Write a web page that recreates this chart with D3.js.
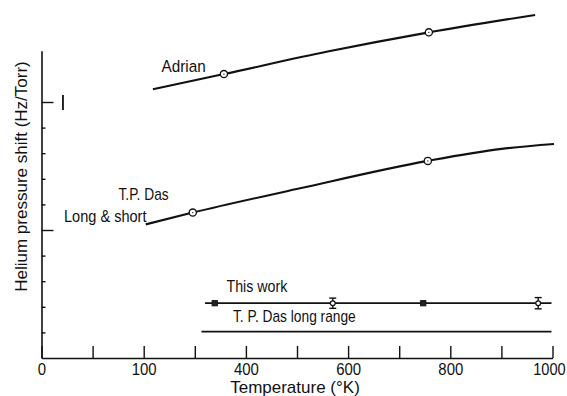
<!DOCTYPE html>
<html><head><meta charset="utf-8">
<script src="https://cdn.jsdelivr.net/npm/d3@7"></script>
<style>
body{margin:0;background:#fff}
svg{display:block}
text{font-family:"Liberation Sans",Arial,Helvetica,sans-serif;fill:#111}
</style>
</head><body>
<svg id="c" width="567" height="396"></svg>
<script>
// ---- data ----
const xTickValues = [0,100,200,300,400,500,600,700,800,900,1000];
const xTickLabelValues = [0,200,400,600,800,1000];
const xTickLabels = ["0","100","400","600","800","1000"];
const yMinorTicks = [1,2,3,4,6,7,8,9];
const yMajorTicks = [5,10];

// Adrian curve (temperature K, shift in arbitrary axis units)
const adrianT = [218, 357, 560, 758, 966];
const adrianV = [10.50, 11.09, 11.97, 12.72, 13.40];
const adrianPtsT = [357, 758];
const adrianPtsV = [11.09, 12.72];

// T.P. Das long & short range
const dasLST = [204, 296, 506, 756, 900, 1003];
const dasLSV = [5.22, 5.68, 6.63, 7.70, 8.17, 8.36];
const dasLSPtsT = [296, 756];
const dasLSPtsV = [5.68, 7.70];

// This work
const workLineT = [320, 998];
const workLineV = [2.14, 2.14];
const workPtsT = [339, 570, 747, 972];
const workPtsV = [2.14, 2.14, 2.14, 2.14];
const workErr = [0, 0.20, 0, 0.22];
const workMarker = ["square", "circle", "square", "circle"];

// T.P. Das long range
const dasLRT = [313, 998];
const dasLRV = [1.03, 1.03];

// scale bar mark near the y axis
const scaleBarT = [42, 42];
const scaleBarV = [9.69, 10.27];

// ---- drawing ----
const svg = d3.select("#c");
const x = d3.scaleLinear().domain([0, 1000]).range([41.5, 552.5]);
const y = d3.scaleLinear().domain([0, 12]).range([358, 50.8]);

// x axis
const xAxis = d3.axisBottom(x)
  .tickValues(xTickValues)
  .tickSize(-12).tickSizeOuter(0).tickPadding(5)
  .tickFormat(d => { const i = xTickLabelValues.indexOf(d); return i >= 0 ? xTickLabels[i] : ""; });
const gx = svg.append("g").attr("transform", `translate(0,${y(0)})`).call(xAxis);
gx.selectAll("path.domain").attr("stroke", "#111").attr("stroke-width", 1.6);
gx.selectAll(".tick line").attr("stroke", "#111").attr("stroke-width", 1.4);
gx.selectAll(".tick text").attr("font-size", 17).attr("fill", "#111")
  .attr("font-family", '"Liberation Sans",Arial,sans-serif')
  .attr("transform", d => d === 1000 ? "translate(-3.5,0) scale(0.86,1)" : "scale(0.88,1)");

// y axis (minor and major ticks pointing right)
const gyMinor = svg.append("g").attr("transform", `translate(${x(0)},0)`)
  .call(d3.axisLeft(y).tickValues(yMinorTicks).tickSize(-4).tickSizeOuter(0).tickFormat(""));
const gyMajor = svg.append("g").attr("transform", `translate(${x(0)},0)`)
  .call(d3.axisLeft(y).tickValues(yMajorTicks).tickSize(-12).tickSizeOuter(0).tickFormat(""));
gyMajor.select("path.domain").remove();
svg.selectAll("g path.domain").attr("stroke", "#111").attr("stroke-width", 1.6);
[gyMinor, gyMajor].forEach(g => g.selectAll(".tick line").attr("stroke", "#111").attr("stroke-width", 1.4));

// scale bar mark
svg.append("line")
  .attr("x1", x(scaleBarT[0])).attr("x2", x(scaleBarT[1]))
  .attr("y1", y(scaleBarV[0])).attr("y2", y(scaleBarV[1]))
  .attr("stroke", "#111").attr("stroke-width", 1.8);

const line = d3.line().x(d => x(d[0])).y(d => y(d[1])).curve(d3.curveMonotoneX);
const zip = (a, b) => a.map((v, i) => [v, b[i]]);

function curve(ts, vs, w) {
  svg.append("path").attr("d", line(zip(ts, vs)))
    .attr("fill", "none").attr("stroke", "#111").attr("stroke-width", w);
}
function circles(ts, vs) {
  const pts = zip(ts, vs);
  svg.append("g").selectAll("circle").data(pts).join("circle")
    .attr("cx", d => x(d[0])).attr("cy", d => y(d[1])).attr("r", 3.6)
    .attr("fill", "#fff").attr("stroke", "#111").attr("stroke-width", 1.3);
  svg.append("g").selectAll("circle").data(pts).join("circle")
    .attr("cx", d => x(d[0])).attr("cy", d => y(d[1])).attr("r", 0.7)
    .attr("fill", "#111");
}

curve(adrianT, adrianV, 2.1);
circles(adrianPtsT, adrianPtsV);
curve(dasLST, dasLSV, 2.1);
circles(dasLSPtsT, dasLSPtsV);
curve(workLineT, workLineV, 1.8);
curve(dasLRT, dasLRV, 1.6);

// This work markers with error bars
const wg = svg.append("g");
workPtsT.forEach((t, i) => {
  const cx = x(t), cy = y(workPtsV[i]), e = workErr[i];
  if (e > 0) {
    const yt = y(workPtsV[i] + e), yb = y(workPtsV[i] - e);
    wg.append("line").attr("x1", cx).attr("x2", cx).attr("y1", yt).attr("y2", yb)
      .attr("stroke", "#111").attr("stroke-width", 1.4);
    [yt, yb].forEach(yy => wg.append("line").attr("x1", cx - 3.5).attr("x2", cx + 3.5)
      .attr("y1", yy).attr("y2", yy).attr("stroke", "#111").attr("stroke-width", 1.4));
  }
  if (workMarker[i] === "square") {
    wg.append("rect").attr("x", cx - 2.6).attr("y", cy - 2.6).attr("width", 5.2).attr("height", 5.2)
      .attr("fill", "#222").attr("stroke", "#111").attr("stroke-width", 1);
  } else {
    wg.append("circle").attr("cx", cx).attr("cy", cy).attr("r", 2.4)
      .attr("fill", "#fff").attr("stroke", "#111").attr("stroke-width", 1.2);
  }
});

// labels
function label(txt, x0, yb, size, sx) {
  svg.append("text").attr("transform", `translate(${x0},${yb}) scale(${sx},1)`)
    .attr("font-size", size).text(txt);
}
label("Adrian", 161.5, 72, 17, 0.9);
label("T.P. Das", 118.5, 200, 16, 0.86);
label("Long & short", 64, 222, 16, 0.91);
label("This work", 226.5, 291.5, 16, 0.89);
label("T. P. Das  long range", 233, 321.5, 16, 0.86);
svg.append("text").attr("x", 295).attr("y", 393).attr("text-anchor", "middle")
  .attr("font-size", 17).text("Temperature  (°K)");
svg.append("text").attr("transform", "translate(27,176.5) rotate(-90)")
  .attr("text-anchor", "middle").attr("font-size", 17)
  .text("Helium pressure  shift (Hz/Torr)");
</script>
</body></html>
